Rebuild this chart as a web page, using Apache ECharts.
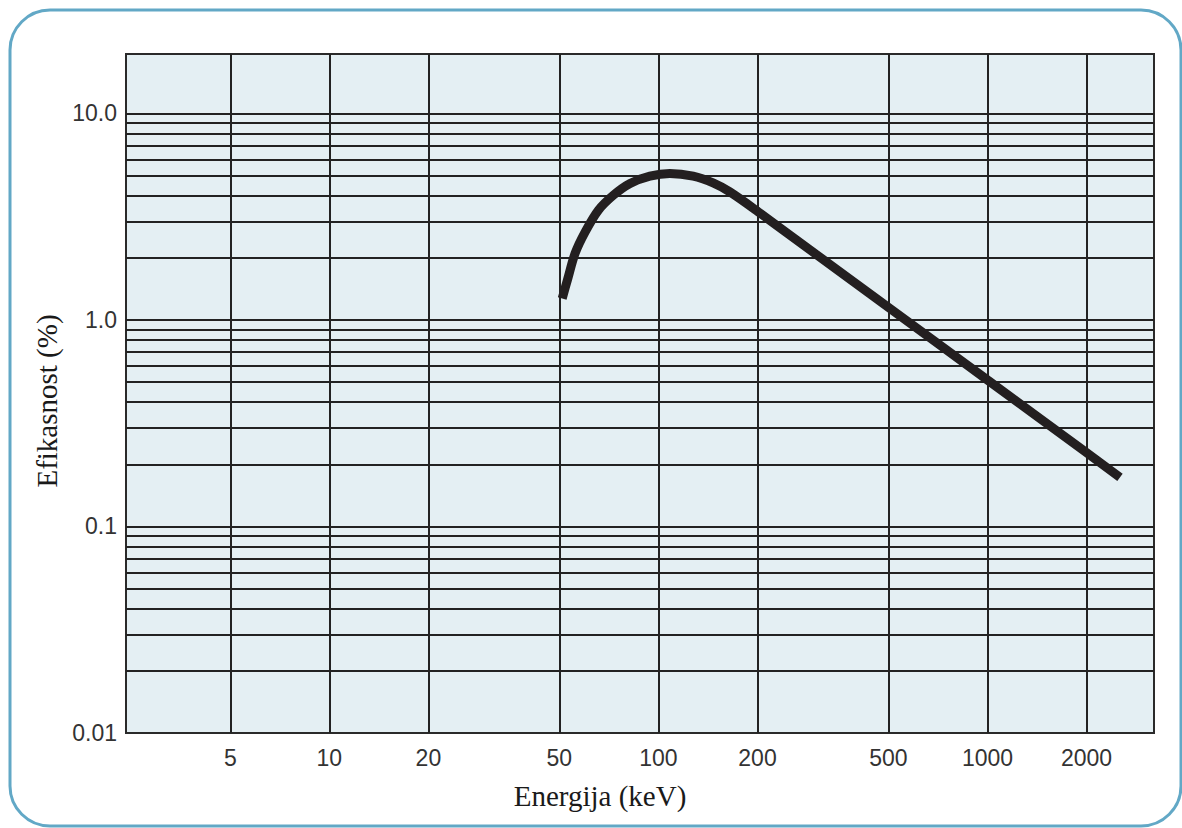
<!DOCTYPE html>
<html>
<head>
<meta charset="utf-8">
<script src="https://cdn.jsdelivr.net/npm/echarts@6/dist/echarts.min.js"></script>
<style>
html,body{margin:0;padding:0;background:#fff;}
#c{width:1182px;height:828px;}
</style>
</head>
<body>
<div id="c"></div>
<script>
// Curve: energy (keV) and efficiency (%)
var energy = [51, 53.0, 55.8, 59.9, 65.7, 73.0, 82.0, 94.2, 108.3, 127.5, 146.6, 164.8, 200, 300, 500, 1000, 2000, 2527];
var efficiency = [1.27, 1.58, 2.10, 2.67, 3.40, 4.02, 4.58, 4.97, 5.12, 4.97, 4.61, 4.17, 3.36, 2.09, 1.15, 0.512, 0.228, 0.173];

// Axis tick labels
var xTickValues = [5, 10, 20, 50, 100, 200, 500, 1000, 2000];
var xTickLabels = ['5', '10', '20', '50', '100', '200', '500', '1000', '2000'];
var yTickValues = [0.01, 0.1, 1, 10];
var yTickLabels = ['0.01', '0.1', '1.0', '10.0'];

// Horizontal grid lines (log minor grid)
var yGridValues = [0.02, 0.03, 0.04, 0.05, 0.06, 0.07, 0.08, 0.09,
                   0.1, 0.2, 0.3, 0.4, 0.5, 0.6, 0.7, 0.8, 0.9,
                   1, 2, 3, 4, 5, 6, 7, 8, 9, 10];

var xMin = 2.41, xMax = 3206, yMin = 0.01, yMax = 19.4;

function lookup(vals, labels, v) {
  for (var i = 0; i < vals.length; i++) {
    if (Math.abs(Math.log10(v) - Math.log10(vals[i])) < 1e-6) return labels[i];
  }
  return '';
}

var curve = energy.map(function (e, i) { return [e, efficiency[i]]; });

var gridLineStyle = { color: '#222', width: 2, type: 'solid' };

var chart = echarts.init(document.getElementById('c'), null, { renderer: 'svg' });
chart.setOption({
  animation: false,
  backgroundColor: '#ffffff',
  graphic: [{
    type: 'rect',
    shape: { x: 10, y: 10, width: 1171, height: 816, r: 40 },
    style: { fill: 'none', stroke: '#62a8c6', lineWidth: 3 },
    silent: true,
    z: 100
  }],
  grid: {
    left: 126, right: 28, top: 54, bottom: 95,
    show: true,
    backgroundColor: '#e4eff3',
    borderColor: '#2a2a2a',
    borderWidth: 2
  },
  xAxis: {
    type: 'log',
    logBase: 10,
    min: xMin,
    max: xMax,
    name: 'Energija (keV)',
    nameLocation: 'middle',
    nameGap: 48,
    nameTextStyle: {
      fontFamily: '"Liberation Serif", "Times New Roman", serif',
      fontSize: 29,
      color: '#1a1a1a',
      padding: [0, 80, 0, 0]
    },
    axisLine: { show: false },
    axisTick: { show: false },
    splitLine: { show: false },
    minorSplitLine: { show: false },
    axisLabel: {
      customValues: xTickValues,
      margin: 13,
      fontFamily: '"Liberation Sans", Arial, sans-serif',
      fontSize: 23,
      color: '#333',
      formatter: function (v) { return lookup(xTickValues, xTickLabels, v); }
    }
  },
  yAxis: {
    type: 'log',
    logBase: 10,
    min: yMin,
    max: yMax,
    name: 'Efikasnost (%)',
    nameLocation: 'middle',
    nameGap: 56,
    nameRotate: 90,
    nameTextStyle: {
      fontFamily: '"Liberation Serif", "Times New Roman", serif',
      fontSize: 29,
      color: '#1a1a1a',
      padding: [0, 15, 0, 0]
    },
    axisLine: { show: false },
    axisTick: { show: false },
    splitLine: { show: false },
    axisLabel: {
      customValues: yTickValues,
      margin: 9,
      fontFamily: '"Liberation Sans", Arial, sans-serif',
      fontSize: 23,
      color: '#333',
      formatter: function (v) { return lookup(yTickValues, yTickLabels, v); }
    }
  },
  series: [
    {
      name: 'grid',
      type: 'line',
      data: [],
      silent: true,
      z: 1,
      markLine: {
        silent: true,
        symbol: ['none', 'none'],
        label: { show: false },
        lineStyle: gridLineStyle,
        emphasis: { disabled: true },
        animation: false,
        data: yGridValues.map(function (v) { return { yAxis: v }; })
          .concat(xTickValues.map(function (v) { return { xAxis: v }; }))
      }
    },
    {
      name: 'Efikasnost',
      type: 'line',
      data: curve,
      smooth: 0.3,
      showSymbol: false,
      symbol: 'none',
      z: 10,
      lineStyle: { color: '#231f20', width: 9, cap: 'butt' }
    }
  ]
});
</script>
</body>
</html>
